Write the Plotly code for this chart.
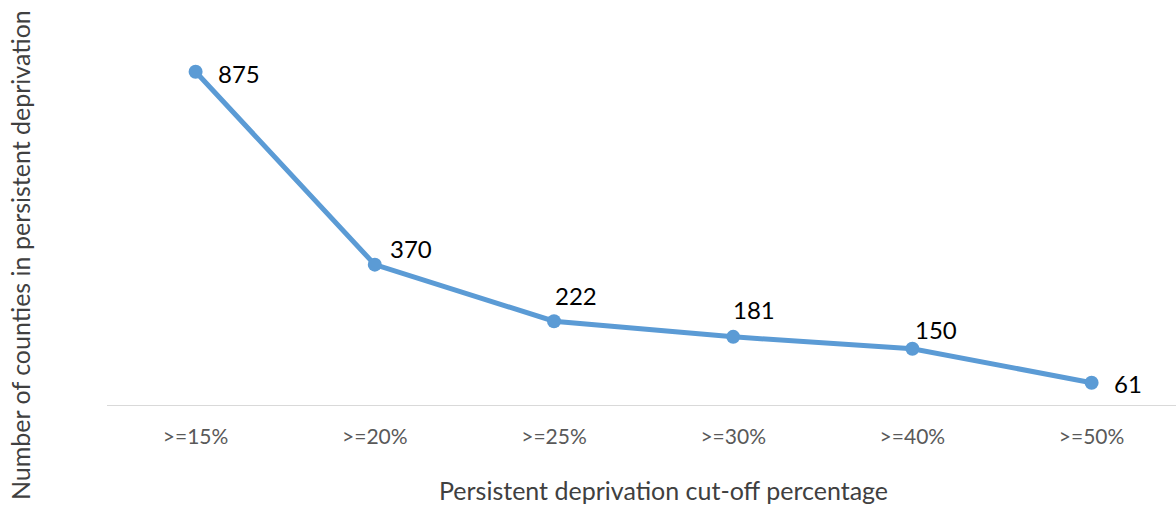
import plotly.graph_objects as go

categories = [">=15%", ">=20%", ">=25%", ">=30%", ">=40%", ">=50%"]
counties = [875, 370, 222, 181, 150, 61]

# pixel offsets of each value label from its marker (x, y; y positive = up)
label_offsets = [(43, -2), (36, 16), (22, 26), (21, 27), (24, 19), (36, -1)]

line_color = "#5B9BD5"
font_family = "Lato, 'Open Sans', sans-serif"

# plot area in pixels
L, R, T, B = 106, 1176, 24, 406
W, H = R - L, B - T

fig = go.Figure()
fig.add_trace(go.Scatter(
    x=categories,
    y=counties,
    mode="lines+markers",
    line=dict(color=line_color, width=5),
    marker=dict(color=line_color, size=14),
    hoverinfo="x+y",
))

for cat, val, (dx, dy) in zip(categories, counties, label_offsets):
    fig.add_annotation(
        x=cat, y=val, text=str(val), showarrow=False,
        xshift=dx, yshift=dy,
        font=dict(family=font_family, size=24, color="#000000"),
    )

# axis titles
fig.add_annotation(
    xref="paper", yref="paper",
    x=(663 - L) / W, y=-(490 - B) / H,
    xanchor="center", yanchor="middle",
    text="Persistent deprivation cut-off percentage",
    showarrow=False, font=dict(family=font_family, size=25, color="#404040"),
)
fig.add_annotation(
    xref="paper", yref="paper",
    x=(20 - L) / W, y=(B - 255) / H,
    xanchor="center", yanchor="middle",
    text="Number of counties in persistent deprivation", textangle=-90,
    showarrow=False, font=dict(family=font_family, size=25, color="#404040"),
)

fig.update_layout(
    width=1176, height=506,
    margin=dict(l=L, r=1176 - R, t=T, b=506 - B),
    paper_bgcolor="white", plot_bgcolor="white",
    showlegend=False,
    font=dict(family=font_family),
    xaxis=dict(
        type="category",
        range=[-0.5, 5.471],
        showgrid=False, zeroline=False,
        showline=False,
        ticks="",
        tickfont=dict(family=font_family, size=21, color="#595959"),
        ticklabelstandoff=16,
    ),
    yaxis=dict(
        range=[0, 1000],
        showgrid=False, zeroline=False,
        showticklabels=False, ticks="",
        showline=False,
    ),
)

# horizontal baseline at zero
fig.add_shape(
    type="line", xref="paper", yref="y",
    x0=1 / W, x1=1, y0=0, y1=0,
    line=dict(color="#D9D9D9", width=2),
    layer="below",
)

fig.write_html("out.html")
